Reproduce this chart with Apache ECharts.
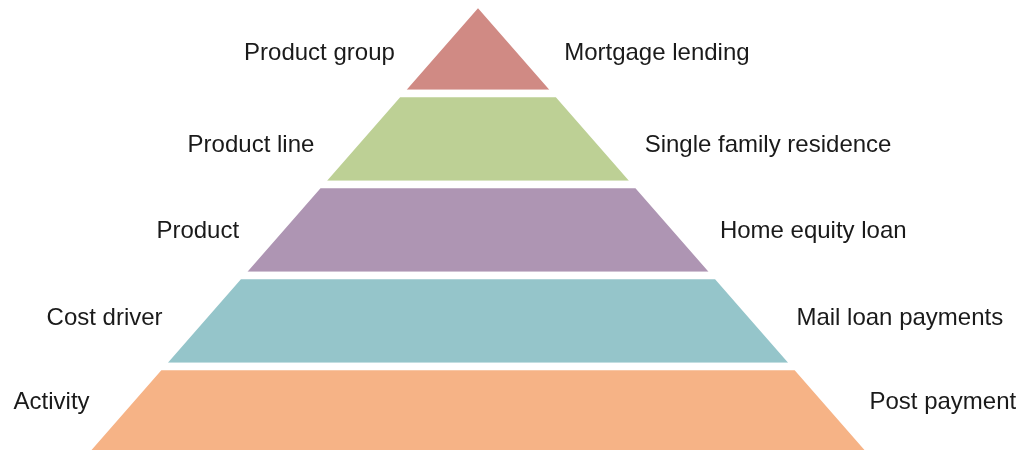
<!DOCTYPE html>
<html>
<head>
<meta charset="utf-8">
<title>Pyramid</title>
<script src="https://cdn.jsdelivr.net/npm/echarts@6/dist/echarts.min.js"></script>
<style>
    html, body { margin: 0; padding: 0; background: #fff; }
    #chart { width: 1027px; height: 450px; }
</style>
</head>
<body>
<div id="chart"></div>
<script>
    // pyramid levels, top to bottom
    var levels = ['Product group', 'Product line', 'Product', 'Cost driver', 'Activity'];
    var examples = ['Mortgage lending', 'Single family residence', 'Home equity loan', 'Mail loan payments', 'Post payment'];
    var values = [20, 40, 60, 80, 100];
    var colors = ['#D08A84', '#BDD095', '#AE95B3', '#95C5CA', '#F6B386'];
    // small vertical nudge of the labels off each layer's centre (px)
    var labelNudge = [5, 6, 1, -2.5, -10];
    var slope = 0.875;

    var chart = echarts.init(document.getElementById('chart'));

    function buildData (names, withColor) {
        return values.map(function (v, i) {
            return {
                name: names[i],
                value: v,
                itemStyle: { color: withColor ? colors[i] : 'rgba(0,0,0,0)' }
            };
        });
    }

    var base = {
        type: 'funnel',
        sort: 'ascending',
        top: 2.5,
        height: 455,
        left: 80,
        width: 796,
        min: 0,
        max: 100,
        minSize: '0%',
        maxSize: '100%',
        gap: 0,
        silent: true,
        animation: false
    };

    var labelFont = {
        show: true,
        color: '#1a1a1a',
        fontSize: 24,
        fontFamily: 'Liberation Sans, Arial, sans-serif'
    };

    chart.setOption({
        backgroundColor: '#fff',
        series: [
            Object.assign({}, base, {
                name: 'levels',
                data: buildData(levels, true),
                itemStyle: { borderColor: '#fff', borderWidth: 7.5 },
                label: Object.assign({ position: 'left' }, labelFont),
                labelLine: { show: false, length: 34 },
                labelLayout: function (params) {
                    var dy = labelNudge[params.dataIndex];
                    return { dx: -slope * dy, dy: dy };
                }
            }),
            Object.assign({}, base, {
                name: 'examples',
                data: buildData(examples, false),
                itemStyle: { borderWidth: 0 },
                label: Object.assign({ position: 'right' }, labelFont),
                labelLine: { show: false, length: 37 },
                labelLayout: function (params) {
                    var dy = labelNudge[params.dataIndex];
                    return { dx: slope * dy, dy: dy };
                }
            })
        ]
    });
</script>
</body>
</html>
